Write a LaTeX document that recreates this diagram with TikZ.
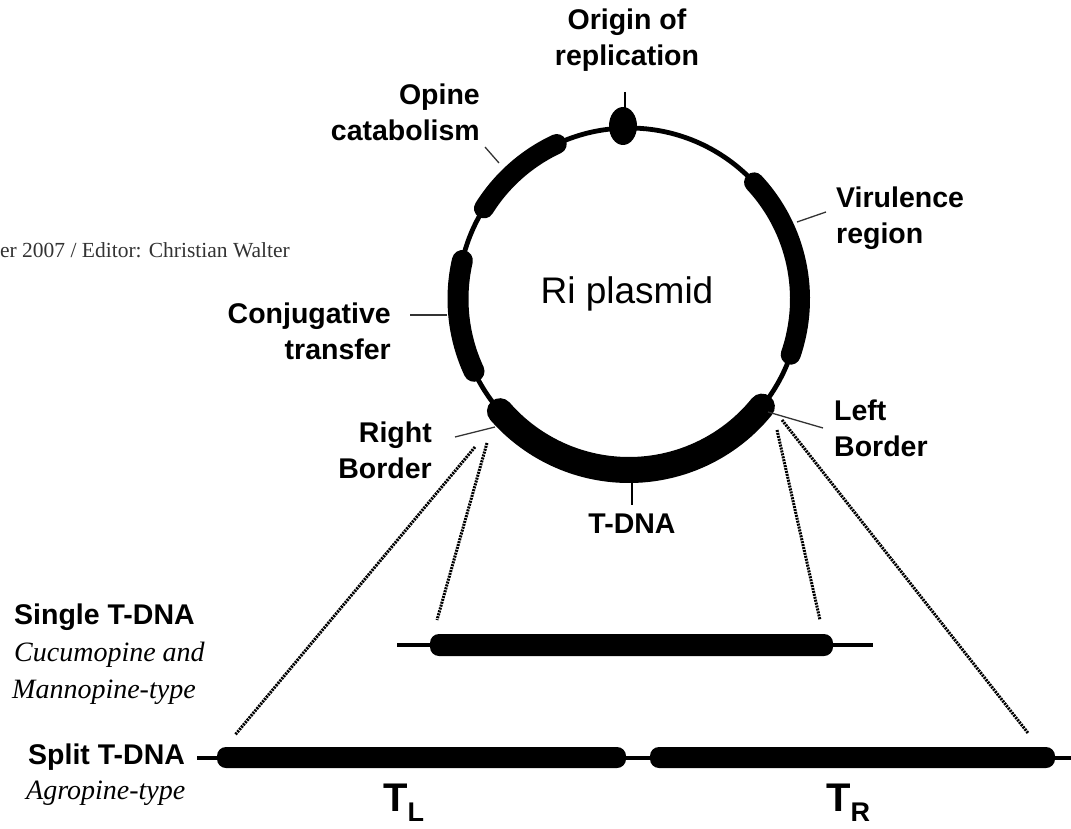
\documentclass[tikz,border=0pt]{standalone}
\usepackage{fontspec}
\setmainfont{Liberation Serif}
\newfontfamily\labfam{Liberation Sans}
\newfontfamily\itfam{Liberation Serif}
\begin{document}
\begin{tikzpicture}[x=1pt,y=-1pt,
  lbl/.style={font=\labfam\bfseries\fontsize{28.5}{36}\selectfont, inner sep=0pt},
  itl/.style={font=\itfam\itshape\fontsize{28}{30}\selectfont, inner sep=0pt},
  lead/.style={line width=1.3pt, black!80},
  dotline/.style={line width=3pt, dash pattern=on 2pt off 1pt},
  barfill/.style={fill=black, rounded corners=9pt},
  thinbar/.style={line width=4pt},
]
\useasboundingbox (0,0) rectangle (1071,829);
\clip (0,0) rectangle (1071,829);

% header fragment
\node[font=\fontsize{21.5}{24}\selectfont, text=black!80, anchor=base east, inner sep=0pt] (hdr) at (290,258) {er 2007 / Editor: Christian Walter};

% plasmid circle
\coordinate (c) at (629,299);
\draw[line width=4.8pt] (c) circle[radius=171];
% opine catabolism band
\draw[line width=20pt, line cap=round] ([shift={(212:171)}]c) arc[start angle=212,end angle=245,radius=171];
% virulence band
\draw[line width=20pt, line cap=round] ([shift={(-43:171)}]c) arc[start angle=-43,end angle=19,radius=171];
% conjugative band
\draw[line width=21pt, line cap=round] ([shift={(155:171)}]c) arc[start angle=155,end angle=193,radius=171];
% T-DNA band
\draw[line width=26pt, line cap=round] ([shift={(39:171)}]c) arc[start angle=39,end angle=139,radius=171];
% origin
\fill (623,126) ellipse[x radius=14, y radius=19];
\coordinate (oritop) at (625,92);
\coordinate (oribot) at (625,110);
\draw[line width=1.5pt] (oritop) -- (oribot);

\node[font=\labfam\fontsize{37}{40}\selectfont, inner sep=0pt] (ri) at (627,294) {Ri plasmid};

% labels
\node[lbl, align=center] (ori) at (627,40) {Origin of\\replication};
\node[lbl, align=right, anchor=east] (opine) at (480,112) {Opine\\catabolism};
\node[lbl, align=right, anchor=east] (conj) at (391,331) {Conjugative\\transfer};
\node[lbl, align=left, anchor=west] (vir) at (836,218) {Virulence\\region};
\node[lbl, align=right, anchor=east] (rb) at (432,450) {Right\\Border};
\node[lbl, align=left, anchor=west] (lb) at (834,428) {Left\\Border};
\node[lbl] (tdna) at (632,524) {T-DNA};

% leaders
\coordinate (opA) at (485,147); \coordinate (opB) at (499,163);
\draw[lead] (opA) -- (opB);
\coordinate (viA) at (797,222); \coordinate (viB) at (826,212);
\draw[lead] (viA) -- (viB);
\coordinate (coA) at (410,315); \coordinate (coB) at (447,315);
\draw[lead] (coA) -- (coB);
\coordinate (rbA) at (455,437); \coordinate (rbB) at (495,427);
\draw[lead] (rbA) -- (rbB);
\coordinate (lbA) at (768,412); \coordinate (lbB) at (823,428);
\draw[lead] (lbA) -- (lbB);
\coordinate (tdA) at (632,482); \coordinate (tdB) at (632,505);
\draw[line width=1.5pt] (tdA) -- (tdB);

% left-side texts
\node[lbl, anchor=west] (single) at (14,617) {Single T-DNA};
\node[itl, anchor=west] (cuc) at (14,655) {Cucumopine and};
\node[itl, anchor=west] (man) at (12,692) {Mannopine-type};
\node[lbl, anchor=west] (split) at (28,757) {Split T-DNA};
\node[itl, anchor=west] (agro) at (26,793) {Agropine-type};

% single T-DNA
\coordinate (s0) at (397,645); \coordinate (s1) at (873,645);
\draw[thinbar] (s0) -- (s1);
\fill[barfill] (430,634) rectangle (833,656);

% split T-DNA
\coordinate (p0) at (197,758); \coordinate (p1) at (1071,758);
\draw[thinbar] (p0) -- (p1);
\fill[barfill] (217,747) rectangle (626,768);
\fill[barfill] (650,747) rectangle (1055,768);

% dotted projection lines
\coordinate (d1a) at (475,447); \coordinate (d1b) at (235,735);
\coordinate (d2a) at (487,443); \coordinate (d2b) at (437,620);
\coordinate (d3a) at (777,430); \coordinate (d3b) at (820,620);
\coordinate (d4a) at (782,420); \coordinate (d4b) at (1028,733);
\draw[dotline] (d1a) -- (d1b);
\draw[dotline] (d2a) -- (d2b);
\draw[dotline] (d3a) -- (d3b);
\draw[dotline] (d4a) -- (d4b);

% T_L and T_R
\node[font=\labfam\bfseries\fontsize{40}{40}\selectfont, inner sep=0pt, anchor=base west] (tl) at (383,811) {T\raisebox{-10pt}{\fontsize{27}{30}\selectfont L}};
\node[font=\labfam\bfseries\fontsize{40}{40}\selectfont, inner sep=0pt, anchor=base west] (tr) at (826,811) {T\raisebox{-10pt}{\fontsize{27}{30}\selectfont R}};
\end{tikzpicture}
\end{document}
